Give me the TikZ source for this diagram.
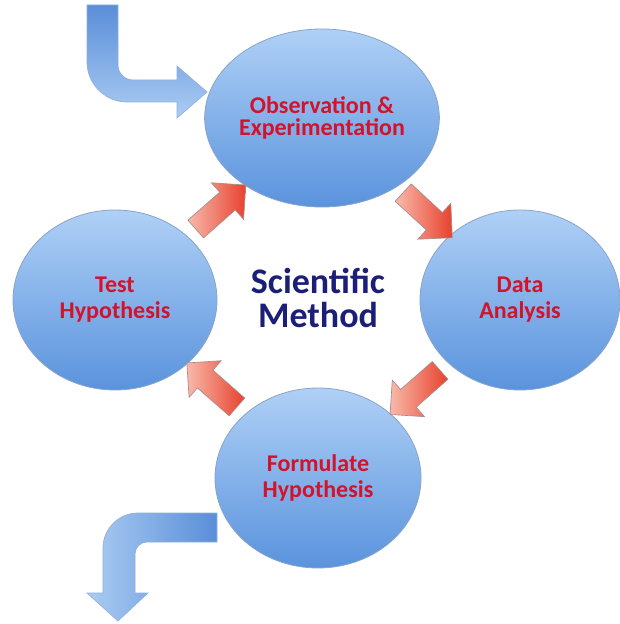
\documentclass[tikz,border=0pt]{standalone}
\usepackage{fontspec}
\usetikzlibrary{shapes.geometric,shapes.arrows}
\newfontfamily\labfont{Carlito}
\definecolor{circtop}{HTML}{AFD0F6}
\definecolor{circbot}{HTML}{5A93DD}
\definecolor{circline}{HTML}{8AA4C8}
\definecolor{labred}{HTML}{D3122B}
\definecolor{navy}{HTML}{1C1F78}
\definecolor{arrlight}{HTML}{F8B9AA}
\definecolor{arrdark}{HTML}{E8412E}
\definecolor{arrline}{HTML}{A88C8C}
\definecolor{blight}{HTML}{ABCCF3}
\definecolor{bdark}{HTML}{5A8ED8}
\definecolor{bline}{HTML}{8FB0DC}
\tikzset{
  stagecirc/.style={ellipse, inner sep=0pt, outer sep=0pt, draw=circline, line width=0.6pt,
    top color=circtop, bottom color=circbot, text=labred, align=center,
    font=\labfont\bfseries\fontsize{18}{19.5}\selectfont},
  redarrow/.style={single arrow, draw=arrline, line width=0.5pt, left color=arrlight, right color=arrdark,
    minimum height=50pt, inner xsep=0pt, inner ysep=8.6pt, single arrow head extend=9.4pt,
    text height=0pt, text depth=0pt, sloped, allow upside down, midway},
  bentarrow/.style={draw=bline, line width=0.5pt}
}
\begin{document}
\begin{tikzpicture}[x=0.75pt,y=-0.75pt]
\useasboundingbox[fill=white] (0,0) rectangle (620,624);
% bent arrows (in and out)
\path[bentarrow, top color=bdark, bottom color=blight]
  (87,5) -- (87,62) .. controls (87,84) and (105,102) .. (127,102) -- (177,102) -- (177,118)
  -- (207,92) -- (177,66) -- (177,80) -- (133,80) .. controls (124.7,80) and (118,73.3) .. (118,65)
  -- (118,5) -- cycle;
\path[bentarrow, left color=blight, right color=bdark]
  (217,513) -- (138,513) .. controls (118.7,513) and (103,528.7) .. (103,548) -- (103,593)
  -- (87,593) -- (118,621) -- (148,593) -- (135,593) -- (135,554)
  .. controls (135,547.4) and (140.4,542) .. (147,542) -- (217,542) -- cycle;
% stages
\node[stagecirc, minimum width=151.5pt, minimum height=133.5pt,
  font=\labfont\bfseries\fontsize{18}{17}\selectfont] (obs) at (322,118) {Observation \&\\Experimentation};
\node[stagecirc, minimum width=150pt, minimum height=135pt] (data) at (520,300) {Data\\Analysis};
\node[stagecirc, minimum width=154.5pt, minimum height=135pt] (form) at (318,478) {Formulate\\Hypothesis};
\node[stagecirc, minimum width=153pt, minimum height=135pt] (test) at (115,300) {Test\\Hypothesis};
\node[text=navy, align=center, font=\labfont\bfseries\fontsize{27}{26}\selectfont] (title) at (318,298) {Scientific\\Method};
% cycle arrows
\path (test) -- (obs) node[redarrow] (a1) {};
\path (obs) -- (data) node[redarrow] (a2) {};
\path (data) -- (form) node[redarrow] (a3) {};
\path (form) -- (test) node[redarrow] (a4) {};
\end{tikzpicture}
\end{document}
